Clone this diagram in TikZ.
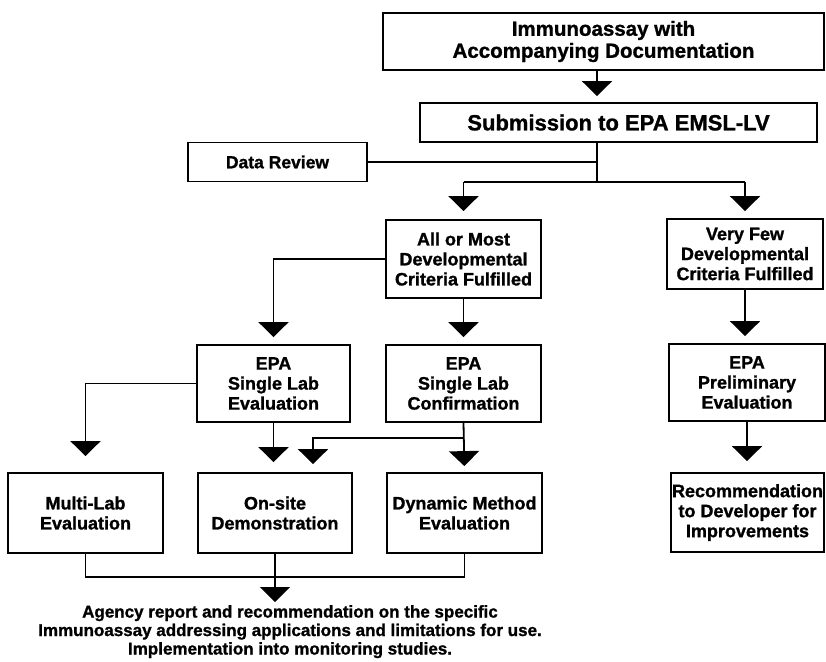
\documentclass[tikz,border=0pt]{standalone}
\usepackage{fontspec}
\setmainfont{Liberation Sans}[BoldFeatures={FakeBold=1.2}]
\usetikzlibrary{arrows.meta}
\begin{document}
\begin{tikzpicture}[x=1pt,y=-1pt,
  box/.style={draw, line width=1.8pt, align=center, inner sep=0pt,
    font=\bfseries\fontsize{18pt}{20pt}\selectfont},
  ln/.style={line width=1.8pt},
  arr/.style={line width=1.8pt, -{Triangle[width=30pt,length=15pt]}, shorten >=7pt}]
\path[fill=white] (0,0) rectangle (826,661);
\useasboundingbox (0,0) rectangle (826,661);
% boxes
\node[box, minimum width=441pt, minimum height=57pt,
  font=\bfseries\fontsize{20.5pt}{22pt}\selectfont] (b1) at (603.5,41.5)
  {Immunoassay with\\Accompanying Documentation};
\node[box, minimum width=397pt, minimum height=39pt,
  font=\bfseries\fontsize{22pt}{24pt}\selectfont] (b2) at (618.5,122.5)
  {Submission to EPA EMSL-LV};
\node[box, minimum width=179pt, minimum height=39pt,
  font=\bfseries\fontsize{17.5pt}{20pt}\selectfont] (dr) at (277.5,162)
  {Data Review};
\node[box, minimum width=155pt, minimum height=78pt] (am) at (463.5,259)
  {All or Most\\Developmental\\Criteria Fulfilled};
\node[box, minimum width=156pt, minimum height=70pt] (vf) at (745,254)
  {Very Few\\Developmental\\Criteria Fulfilled};
\node[box, minimum width=153pt, minimum height=77pt] (sle) at (273.5,383.5)
  {EPA\\Single Lab\\Evaluation};
\node[box, minimum width=155pt, minimum height=77pt] (slc) at (463.5,383.5)
  {EPA\\Single Lab\\Confirmation};
\node[box, minimum width=156pt, minimum height=77pt] (pe) at (747,382.5)
  {EPA\\Preliminary\\Evaluation};
\node[box, minimum width=155pt, minimum height=80pt] (ml) at (85.5,513)
  {Multi-Lab\\Evaluation};
\node[box, minimum width=154pt, minimum height=80pt] (os) at (275,513)
  {On-site\\Demonstration};
\node[box, minimum width=155pt, minimum height=80pt] (dm) at (464.5,513)
  {Dynamic Method\\Evaluation};
\node[box, minimum width=153pt, minimum height=79pt] (rec) at (747.5,512.5)
  {Recommendation\\to Developer for\\Improvements};
\node[align=center, inner sep=0pt, anchor=north,
  font=\bfseries\fontsize{17pt}{18.5pt}\selectfont] (fin) at (290,605)
  {Agency report and recommendation on the specific\\
   Immunoassay addressing applications and limitations for use.\\
   Implementation into monitoring studies.};
% junctions
\coordinate (j1) at (597,162);
\coordinate (j2) at (597,182);
\coordinate (j3) at (463.5,438);
\coordinate (j4) at (313,438);
\coordinate (j5) at (275,577);
% connectors
\draw[arr, shorten >=6pt] (b1.south -| j1) -- (b2.north -| j1);
\draw[ln] (b2.south -| j1) -- (j2);
\draw[ln] (dr.east) -- (j1);
\draw[ln] (j2 -| am.north) -- (j2 -| vf.north);
\draw[arr, shorten >=8pt] (j2 -| am.north) -- (am.north);
\draw[arr] (j2 -| vf.north) -- (vf.north);
\draw[arr] (am.west) -| (sle.north);
\draw[arr] (am.south) -- (slc.north);
\draw[arr] (vf.south) -- (vf.south |- pe.north);
\draw[arr, shorten >=16pt] (sle.west) -| (ml.north);
\draw[arr, shorten >=10pt] (sle.south) -- (sle.south |- os.north);
\draw[arr, shorten >=6pt] (slc.south) -- (dm.north);
\draw[arr, shorten >=8pt] (j3) -- (j4) -- (j4 |- os.north);
\draw[arr, shorten >=11pt] (pe.south) -- (pe.south |- rec.north);
\draw[ln] (ml.south) -- (ml.south |- j5) -- (dm.south |- j5) -- (dm.south);
\draw[ln] (os.south) -- (j5);
\draw[arr, shorten >=3pt] (j5) -- (j5 |- fin.north);
\end{tikzpicture}
\end{document}
